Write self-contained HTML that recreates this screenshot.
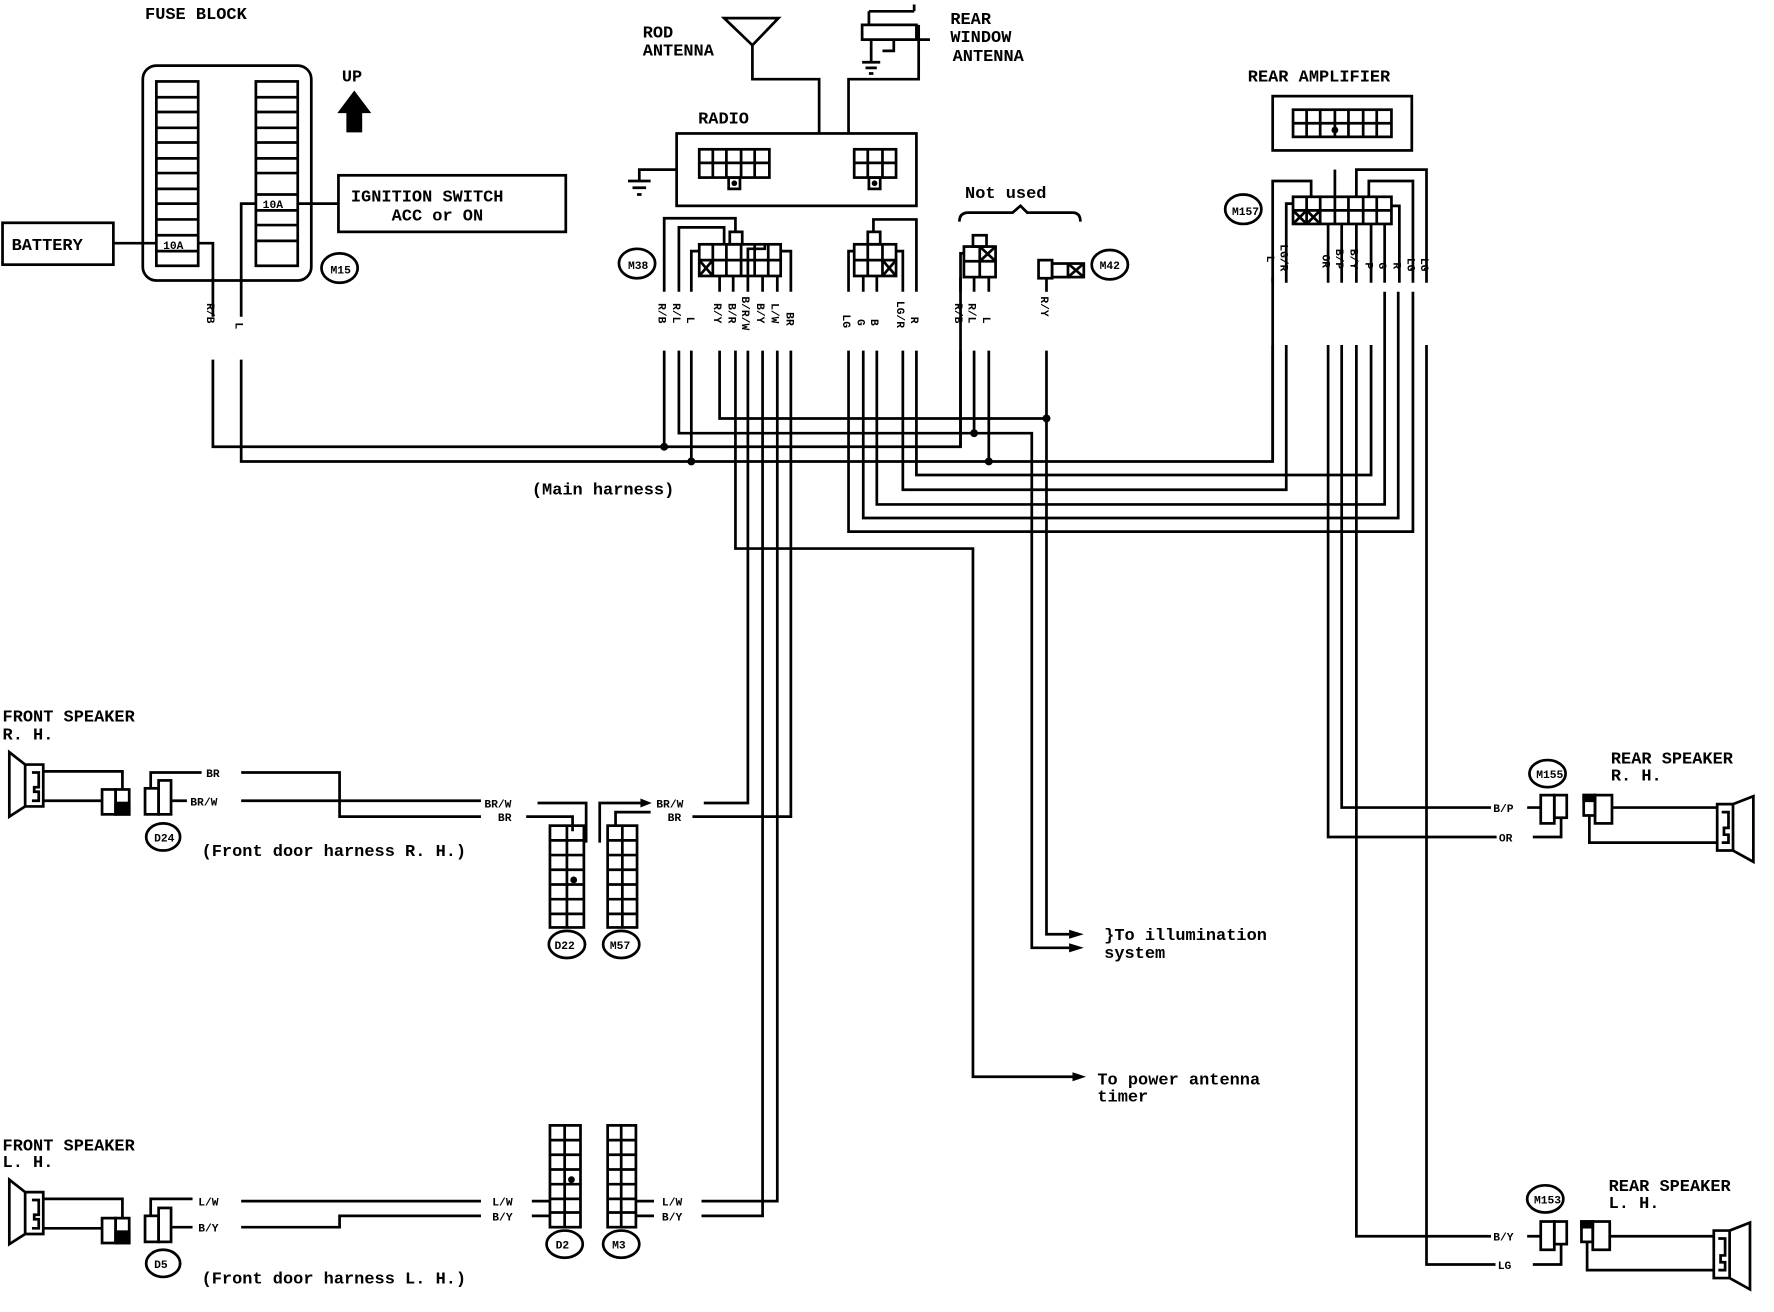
<!DOCTYPE html>
<html><head><meta charset="utf-8"><style>
html,body{margin:0;padding:0;background:#fff;}
svg{display:block;}
text{font-family:"Liberation Mono","DejaVu Sans Mono",monospace;font-weight:bold;fill:#000;}
.l{font-size:15px;}
.s{font-size:10px;}
.v{font-size:10px;}
</style></head><body>
<svg width="1774" height="1312" viewBox="0 0 1568 1160" xmlns="http://www.w3.org/2000/svg">
<g fill="none" stroke="#000" stroke-width="2.4" stroke-linejoin="miter">
<rect x="126" y="58" width="149" height="190" rx="12"/>
<rect x="138" y="72" width="37" height="163"/>
<rect x="226" y="72" width="37" height="163"/>
<path d="M138 86H175M138 99H175M138 113H175M138 126H175M138 140H175M138 153H175M138 167H175M138 180H175M138 194H175M138 208H175M138 222H175"/>
<path d="M226 86H263M226 99H263M226 113H263M226 126H263M226 140H263M226 153H263M226 172H263M226 186H263M226 199H263M226 213H263"/>
<rect x="2" y="197" width="98" height="37"/>
<path d="M100 215H138"/>
<rect x="299" y="155" width="201" height="50"/>
<path d="M263 180H299"/>
<ellipse cx="300" cy="237" rx="16" ry="13"/>
<path d="M175 215H188V280M188 318V395H849V245"/>
<path d="M226 180H213V280M213 318V408H1125V245"/>
<path d="M640 16L665 40L688 16ZM665 40V70H724V118"/>
<path d="M768 10H808M808 10V4M768 10V22M762 22H810V35H762ZM770 35V55M762 55H778M765 60H775M768 65H772M810 35H822M790 35V45H780M750 118V70H812V22"/>
<rect x="598" y="118" width="212" height="64"/>
<rect x="618" y="132" width="62" height="25"/>
<path d="M630 132V157M642 132V157M655 132V157M667 132V157M618 144H680"/>
<rect x="644" y="157" width="10" height="10"/>
<rect x="755" y="132" width="37" height="25"/>
<path d="M767 132V157M780 132V157M755 144H792"/>
<rect x="768" y="157" width="10" height="10"/>
<path d="M598 150H565V160M555 160H575M559 166H571M563 172H567"/>
<ellipse cx="563" cy="233" rx="16" ry="13"/>
<rect x="618" y="216" width="72" height="28"/>
<path d="M630 216V244M642 216V244M655 216V244M667 216V244M679 216V244M618 230H690M618 230L630 244M630 230L618 244"/>
<rect x="645" y="205" width="11" height="11"/>
<path d="M587 258V193H650V205M600 258V201H640V216M611 258V222H618M636 244V258M648 244V258M661 244V258M674 244V258M687 244V258M690 222H699V258M661 244V220H676V216"/>
<rect x="755" y="216" width="37" height="28"/>
<path d="M767 216V244M780 216V244M755 230H792M780 230L792 244M792 230L780 244"/>
<rect x="767" y="205" width="11" height="11"/>
<path d="M750 258V222H755M763 244V258M775 244V258M772 205V194H810V258M792 222H798V258"/>
<path d="M848 196Q848 188 856 188H895L902 182L908 188H948Q955 188 955 196"/>
<rect x="852" y="218" width="28" height="27"/>
<path d="M866 218V245M852 231H880M866 218L880 231M880 218L866 231"/>
<rect x="860" y="208" width="12" height="10"/>
<path d="M849 258V224H852M861 245V258M874 245V258"/>
<rect x="918" y="230" width="12" height="16"/>
<rect x="930" y="233" width="28" height="12"/>
<path d="M944 233V245M944 233L958 245M958 233L944 245"/>
<ellipse cx="981" cy="234" rx="16" ry="13"/>
<path d="M925 246V258"/>
<path d="M587 310V395M600 310V383H912V838H945"/>
<path d="M611 310V408"/>
<path d="M636 310V370H925V826H945"/>
<path d="M650 310V485H860V952H948"/>
<path d="M661 310V710H622"/>
<path d="M674 310V1075H620"/>
<path d="M687 310V1062H620"/>
<path d="M699 310V722H612"/>
<path d="M750 310V470H1249V258"/>
<path d="M763 310V458H1236V258"/>
<path d="M775 310V446H1224V258"/>
<path d="M798 310V433H1137V305"/>
<path d="M810 310V420H1212V305"/>
<path d="M849 310V395M861 310V383M874 310V408M925 310V370"/>
<rect x="1125" y="85" width="123" height="48"/>
<rect x="1143" y="97" width="87" height="24"/>
<path d="M1155 97V121M1167 97V121M1180 97V121M1192 97V121M1205 97V121M1217 97V121M1143 109H1230"/>
<ellipse cx="1099" cy="185" rx="16" ry="13"/>
<rect x="1143" y="174" width="87" height="24"/>
<path d="M1155 174V198M1167 174V198M1180 174V198M1192 174V198M1205 174V198M1217 174V198M1143 186H1230M1143 186L1155 198M1155 186L1143 198M1155 186L1167 198M1167 186L1155 198"/>
<path d="M1125 250V160H1159V174M1137 250V180H1143M1174 198V250M1186 198V250M1199 198V250M1212 198V250M1224 198V250M1230 182H1237V250M1210 174V160H1249V250M1199 174V150H1261V250M1180 174V150"/>
<path d="M1125 305V408M1174 305V740H1323M1186 305V714H1318M1199 305V1093H1318M1261 305V1118H1322"/>
<ellipse cx="1368" cy="684" rx="16" ry="12"/>
<rect x="1362" y="703" width="12" height="25"/>
<rect x="1374" y="703" width="11" height="20"/>
<path d="M1350 714H1362M1355 740H1380V723"/>
<rect x="1400" y="703" width="10" height="18"/>
<rect x="1410" y="703" width="15" height="25"/>
<rect x="1400" y="703" width="10" height="5" fill="#000"/>
<path d="M1425 714H1518M1405 721V745H1518"/>
<path d="M1518 711H1532V752H1518ZM1532 711L1550 704V762L1532 752M1522 718H1528V732H1524V738H1528V745H1522"/>
<ellipse cx="1366" cy="1060" rx="16" ry="12"/>
<rect x="1362" y="1080" width="12" height="25"/>
<rect x="1374" y="1080" width="11" height="20"/>
<path d="M1350 1093H1362M1355 1118H1380V1100"/>
<rect x="1398" y="1080" width="10" height="18"/>
<rect x="1408" y="1080" width="15" height="25"/>
<rect x="1398" y="1080" width="10" height="5" fill="#000"/>
<path d="M1423 1093H1515M1403 1098V1123H1515"/>
<path d="M1515 1088H1529V1130H1515ZM1529 1088L1547 1081V1140L1529 1130M1519 1095H1525V1110H1521V1116H1525V1123H1519"/>
<path d="M8 665V722L22 713V676ZM22 676H38V713H22M28 683H34V696H30V700H34V708H28"/>
<path d="M38 682H108V698M38 708H90"/>
<rect x="90" y="698" width="12" height="22"/>
<rect x="102" y="698" width="12" height="22"/>
<rect x="102" y="710" width="12" height="10" fill="#000"/>
<rect x="128" y="697" width="12" height="23"/>
<rect x="140" y="690" width="11" height="30"/>
<path d="M133 697V683H178M152 708H165M213 683H300V722H425M213 708H425M475 710H518V745M465 722H506V735"/>
<ellipse cx="144" cy="740" rx="15" ry="12"/>
<rect x="486" y="730" width="30" height="90"/>
<path d="M501 730V820M486 743H516M486 756H516M486 769H516M486 782H516M486 795H516M486 808H516"/>
<rect x="537" y="730" width="26" height="90"/>
<path d="M550 730V820M537 743H563M537 756H563M537 769H563M537 782H563M537 795H563M537 808H563"/>
<ellipse cx="501" cy="835" rx="16" ry="12"/>
<ellipse cx="549" cy="835" rx="16" ry="12"/>
<path d="M530 745V710H566M544 730V718H575"/>
<path d="M8 1043V1100L22 1091V1054ZM22 1054H38V1091H22M28 1061H34V1074H30V1078H34V1086H28"/>
<path d="M38 1060H108V1077M38 1086H90"/>
<rect x="90" y="1077" width="12" height="22"/>
<rect x="102" y="1077" width="12" height="22"/>
<rect x="102" y="1089" width="12" height="10" fill="#000"/>
<rect x="128" y="1075" width="12" height="23"/>
<rect x="140" y="1068" width="11" height="30"/>
<path d="M133 1075V1060H170M152 1085H170M213 1062H425M213 1085H300V1075H425M470 1062H486M470 1075H486"/>
<ellipse cx="144" cy="1117" rx="15" ry="12"/>
<rect x="486" y="995" width="27" height="90"/>
<path d="M499 995V1085M486 1008H513M486 1021H513M486 1034H513M486 1047H513M486 1060H513M486 1072H513"/>
<rect x="537" y="995" width="25" height="90"/>
<path d="M549 995V1085M537 1008H562M537 1021H562M537 1034H562M537 1047H562M537 1060H562M537 1072H562"/>
<ellipse cx="499" cy="1100" rx="16" ry="12"/>
<ellipse cx="549" cy="1100" rx="16" ry="12"/>
<path d="M562 1062H578M562 1075H578"/>
</g>
<g fill="#000">
<path d="M313 80L298 100H306V117H320V100H328Z"/>
<circle cx="587" cy="395" r="3.5"/><circle cx="611" cy="408" r="3.5"/>
<circle cx="861" cy="383" r="3.5"/><circle cx="874" cy="408" r="3.5"/><circle cx="925" cy="370" r="3.5"/>
<circle cx="649" cy="162" r="2.5"/><circle cx="773" cy="162" r="2.5"/><circle cx="1180" cy="115" r="3"/>
<circle cx="507" cy="778" r="3"/><circle cx="505" cy="1043" r="3"/>
<path d="M945 834L958 838L945 842ZM945 822L958 826L945 830ZM948 948L960 952L948 956ZM566 706L576 710L566 714Z"/>
</g>
<text class="l" x="128" y="17">FUSE BLOCK</text>
<text class="l" x="302" y="72">UP</text>
<text class="l" x="10" y="221">BATTERY</text>
<text class="s" x="144" y="220">10A</text>
<text class="s" x="232" y="184">10A</text>
<text class="l" x="310" y="178">IGNITION SWITCH</text>
<text class="l" x="346" y="195">ACC or ON</text>
<text class="s" x="292" y="242">M15</text>
<text class="l" x="568" y="33">ROD</text>
<text class="l" x="568" y="49">ANTENNA</text>
<text class="l" x="840" y="21">REAR</text>
<text class="l" x="840" y="37">WINDOW</text>
<text class="l" x="842" y="54">ANTENNA</text>
<text class="l" x="617" y="109">RADIO</text>
<text class="l" x="853" y="175">Not used</text>
<text class="l" x="1103" y="72">REAR AMPLIFIER</text>
<text class="s" x="555" y="238">M38</text>
<text class="s" x="972" y="238">M42</text>
<text class="s" x="1089" y="190">M157</text>
<g class="v">
<text transform="translate(183,268) rotate(90)">R/B</text>
<text transform="translate(208,285) rotate(90)">L</text>
<text transform="translate(582,268) rotate(90)">R/B</text>
<text transform="translate(595,268) rotate(90)">R/L</text>
<text transform="translate(607,280) rotate(90)">L</text>
<text transform="translate(631,268) rotate(90)">R/Y</text>
<text transform="translate(644,268) rotate(90)">B/R</text>
<text transform="translate(656,262) rotate(90)">B/R/W</text>
<text transform="translate(669,268) rotate(90)">B/Y</text>
<text transform="translate(682,268) rotate(90)">L/W</text>
<text transform="translate(695,276) rotate(90)">BR</text>
<text transform="translate(745,278) rotate(90)">LG</text>
<text transform="translate(758,282) rotate(90)">G</text>
<text transform="translate(770,282) rotate(90)">B</text>
<text transform="translate(793,266) rotate(90)">LG/R</text>
<text transform="translate(805,280) rotate(90)">R</text>
<text transform="translate(844,268) rotate(90)">R/B</text>
<text transform="translate(856,268) rotate(90)">R/L</text>
<text transform="translate(869,280) rotate(90)">L</text>
<text transform="translate(920,262) rotate(90)">R/Y</text>
<text transform="translate(1120,226) rotate(90)">L</text>
<text transform="translate(1132,216) rotate(90)">LG/R</text>
<text transform="translate(1169,225) rotate(90)">OR</text>
<text transform="translate(1181,220) rotate(90)">B/P</text>
<text transform="translate(1194,220) rotate(90)">B/Y</text>
<text transform="translate(1207,232) rotate(90)">P</text>
<text transform="translate(1219,232) rotate(90)">G</text>
<text transform="translate(1232,232) rotate(90)">R</text>
<text transform="translate(1244,228) rotate(90)">LG</text>
<text transform="translate(1256,228) rotate(90)">LG</text>
</g>
<text class="l" x="470" y="437">(Main harness)</text>
<text class="l" x="2" y="638">FRONT SPEAKER</text>
<text class="l" x="2" y="654">R. H.</text>
<text class="s" x="182" y="687">BR</text>
<text class="s" x="168" y="712">BR/W</text>
<text class="s" x="428" y="714">BR/W</text>
<text class="s" x="440" y="726">BR</text>
<text class="s" x="580" y="714">BR/W</text>
<text class="s" x="590" y="726">BR</text>
<text class="l" x="178" y="757">(Front door harness R. H.)</text>
<text class="s" x="136" y="744">D24</text>
<text class="s" x="490" y="839">D22</text>
<text class="s" x="539" y="839">M57</text>
<text class="l" x="976" y="831">}To illumination</text>
<text class="l" x="976" y="847">system</text>
<text class="l" x="970" y="959">To power antenna</text>
<text class="l" x="970" y="974">timer</text>
<text class="l" x="2" y="1017">FRONT SPEAKER</text>
<text class="l" x="2" y="1032">L. H.</text>
<text class="s" x="175" y="1066">L/W</text>
<text class="s" x="175" y="1089">B/Y</text>
<text class="s" x="435" y="1066">L/W</text>
<text class="s" x="435" y="1079">B/Y</text>
<text class="s" x="585" y="1066">L/W</text>
<text class="s" x="585" y="1079">B/Y</text>
<text class="s" x="136" y="1121">D5</text>
<text class="s" x="491" y="1104">D2</text>
<text class="s" x="541" y="1104">M3</text>
<text class="l" x="178" y="1135">(Front door harness L. H.)</text>
<text class="l" x="1424" y="675">REAR SPEAKER</text>
<text class="l" x="1424" y="690">R. H.</text>
<text class="s" x="1358" y="688">M155</text>
<text class="s" x="1320" y="718">B/P</text>
<text class="s" x="1325" y="744">OR</text>
<text class="l" x="1422" y="1053">REAR SPEAKER</text>
<text class="l" x="1422" y="1068">L. H.</text>
<text class="s" x="1356" y="1064">M153</text>
<text class="s" x="1320" y="1097">B/Y</text>
<text class="s" x="1324" y="1122">LG</text>
</svg>
</body></html>
